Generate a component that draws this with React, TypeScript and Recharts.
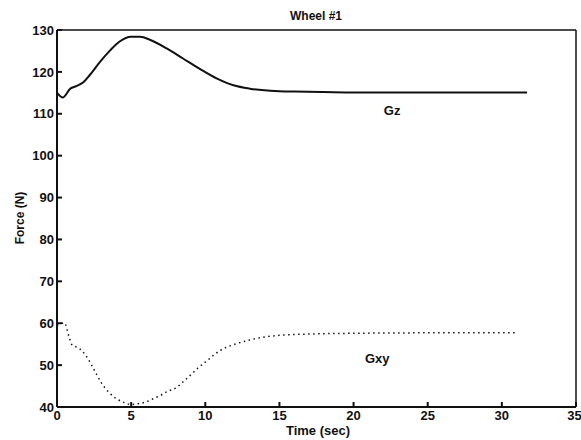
import { LineChart, Line, XAxis, YAxis, ReferenceDot, ReferenceLine } from "recharts";

// Wheel #1 force traces
const gzTime = [0, 0.4, 0.9, 1.3, 1.8, 2.2, 2.9, 3.6, 4.2, 5.0, 5.6, 6.3, 7.4, 8.5, 9.6, 10.8, 11.9, 13, 14, 15, 16, 18, 20, 25, 31.7];
const gzForce = [115.0, 113.9, 116.0, 116.6, 117.6, 119.2, 122.4, 125.2, 127.2, 128.4, 128.4, 127.6, 125.6, 123.2, 120.8, 118.4, 116.8, 116.0, 115.6, 115.4, 115.3, 115.2, 115.1, 115.1, 115.1];

const gxyTime = [0, 0.5, 0.8, 1.0, 1.5, 2.0, 2.5, 3.0, 3.5, 4.0, 4.5, 5.0, 5.5, 6.0, 6.5, 7.0, 7.5, 8.0, 8.5, 9.0, 9.5, 10, 11, 12, 13, 14, 15, 16, 18, 20, 25, 31];
const gxyForce = [59.5, 60.1, 56.9, 54.9, 54.0, 52.0, 48.9, 45.7, 43.5, 42.0, 41.1, 40.6, 40.8, 41.2, 42.0, 42.8, 43.8, 44.5, 46.0, 47.6, 49.3, 50.7, 53.5, 55.0, 56.0, 56.7, 57.1, 57.3, 57.5, 57.6, 57.7, 57.7];

const timeTicks = [0, 5, 10, 15, 20, 25, 30, 35];
const forceTicks = [40, 50, 60, 70, 80, 90, 100, 110, 120, 130];

const gzData = gzTime.map((t, i) => ({ t, v: gzForce[i] }));
const gxyData = gxyTime.map((t, i) => ({ t, v: gxyForce[i] }));

const INK = "#111";
const tickStyle = { fill: INK, fontSize: 13, fontWeight: 700 };
const textStyle = { fill: INK, fontSize: 13, fontWeight: 700 };

export default function App() {
  return (
    <div
      style={{
        position: "absolute",
        left: 0,
        top: 0,
        background: "#fff",
        fontFamily: "'Liberation Sans', Arial, sans-serif",
      }}
    >
      <LineChart
        width={581}
        height={440}
        margin={{ top: 29, right: 4, bottom: 0, left: 0 }}
      >
        <text x={316} y={20} textAnchor="middle" fill={INK} fontSize={12} fontWeight={700}>
          Wheel #1
        </text>
        <text x={318} y={435} textAnchor="middle" fill={INK} fontSize={13} fontWeight={700}>
          Time (sec)
        </text>
        <text
          x={24}
          y={218}
          transform="rotate(-90, 24, 218)"
          textAnchor="middle"
          fill={INK}
          fontSize={12}
          fontWeight={700}
        >
          Force (N)
        </text>
        <XAxis
          dataKey="t"
          type="number"
          domain={[0, 35]}
          ticks={timeTicks}
          height={33}
          stroke={INK}
          strokeWidth={2}
          tickSize={-5}
          tickMargin={9}
          tick={tickStyle}
        />
        <XAxis
          xAxisId="top"
          dataKey="t"
          type="number"
          orientation="top"
          domain={[0, 35]}
          ticks={timeTicks}
          height={1}
          stroke={INK}
          strokeWidth={1.5}
          tickSize={-5}
          tick={false}
        />
        <YAxis
          type="number"
          domain={[40, 130]}
          ticks={forceTicks}
          width={57}
          stroke={INK}
          strokeWidth={2}
          tickSize={-5}
          tickMargin={8}
          tick={tickStyle}
        />
        <YAxis
          yAxisId="right"
          type="number"
          orientation="right"
          domain={[40, 130]}
          ticks={forceTicks}
          width={1}
          stroke={INK}
          strokeWidth={1.5}
          tickSize={-5}
          tick={false}
        />
        {/* frame edges on the left and bottom, in case the axis lines drop out */}
        <ReferenceLine x={0} stroke={INK} strokeWidth={2} />
        <ReferenceLine y={40} stroke={INK} strokeWidth={2} />
        <Line
          data={gzData}
          dataKey="v"
          type="monotone"
          stroke={INK}
          strokeWidth={2}
          dot={false}
          isAnimationActive={false}
        />
        <Line
          data={gxyData}
          dataKey="v"
          type="monotone"
          stroke={INK}
          strokeWidth={1.5}
          strokeDasharray="1.5 3.5"
          dot={false}
          isAnimationActive={false}
        />
        <ReferenceDot x={22.6} y={110.8} r={0} label={{ value: "Gz", position: "center", style: textStyle }} />
        <ReferenceDot x={21.6} y={51.6} r={0} label={{ value: "Gxy", position: "center", style: textStyle }} />
      </LineChart>
    </div>
  );
}
